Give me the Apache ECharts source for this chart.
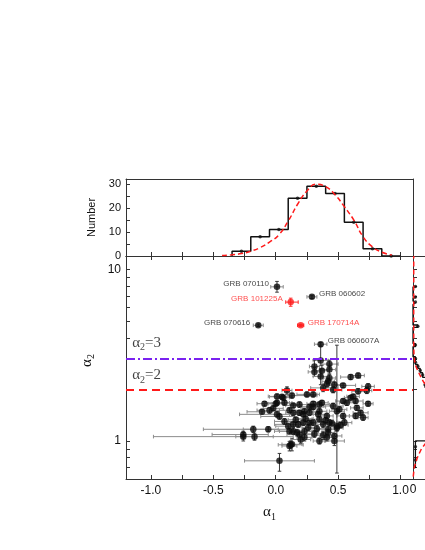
<!DOCTYPE html>
<html>
<head>
<meta charset="utf-8">
<script src="https://cdn.jsdelivr.net/npm/echarts@6/dist/echarts.min.js"></script>
<style>
html,body{margin:0;padding:0;background:#fff;overflow:hidden;}
#main{width:510px;height:550px;}
</style>
</head>
<body>
<div id="main"></div>
<script>
var SANS = '"Liberation Sans", Arial, Helvetica, sans-serif';
var SERIF = '"Liberation Serif", "Times New Roman", serif';

// scatter: alpha1 vs alpha2 (black points, first 4 are labelled bursts)
var alpha1 = [0.01,0.29,-0.14,0.36,
  0.36,0.43,0.31,0.37,0.31,0.43,0.36,0.43,0.42,0.41,
  0.47,0.60,0.66,0.74,0.73,0.54,0.38,0.46,0.66,0.09,
  0.01,0.05,0.06,0.13,0.25,0.30,-0.09,0.01,0.07,0.19,
  0.30,0.35,-0.11,-0.05,0.01,0.11,0.14,0.19,0.23,0.27,
  0.35,0.03,0.10,0.18,0.22,0.27,-0.18,-0.06,-0.26,-0.26,
  -0.17,0.11,0.19,0.23,0.11,0.13,0.03,0.35,0.47,0.47,
  0.41,0.42,0.49,0.43,0.35,0.41,0.46,0.49,0.57,0.60,
  0.62,0.65,0.68,0.70,0.64,0.74,0.55,0.54,0.51,0.27,
  0.37,0.54,0.64,0.22,0.34,0.14,0.30,0.38,0.45,0.52,
  0.14,0.23,0.42,0.49,0.20,0.31,0.38,0.26,0.33,0.40,
  0.24,0.16,0.07,-0.02,0.00,0.14,0.17,0.12,0.30];
var alpha2 = [7.93,6.93,4.73,3.67,
  2.95,2.81,2.72,2.57,2.53,2.61,2.38,2.33,2.23,2.15,
  2.13,2.36,2.41,2.08,1.97,2.11,2.04,1.99,1.95,1.97,
  1.82,1.81,1.79,1.84,1.87,1.87,1.65,1.67,1.67,1.63,
  1.65,1.63,1.48,1.51,1.43,1.51,1.46,1.46,1.49,1.46,
  1.49,1.39,1.22,1.25,1.28,1.28,1.17,1.17,1.09,1.06,
  1.06,1.14,1.09,1.05,0.935,0.956,0.766,1.00,1.07,1.00,
  1.05,1.17,1.19,1.28,1.34,1.40,1.60,1.49,1.67,1.79,
  1.82,1.56,1.46,1.37,1.40,1.65,1.28,1.40,1.53,1.58,
  1.67,1.71,1.71,1.43,1.43,1.25,1.28,1.25,1.27,1.24,
  1.14,1.14,1.12,1.22,1.02,1.10,1.08,1.20,1.18,1.32,
  1.35,1.33,1.30,1.55,1.65,1.61,1.12,0.95,1.58];
var alpha1ErrLo = [.05,.04,.04,.05,
  .06,.07,.04,.05,.05,.05,.06,.05,.05,.04,
  .05,.08,.05,.05,.04,.12,.10,.07,.05,.04,
  .07,.10,.05,.04,.08,.05,.06,.10,.06,.08,
  .05,.08,.12,.10,.30,.08,.06,.05,.07,.05,
  .06,.15,.10,.08,.10,.06,.40,.20,.25,.72,
  .15,.08,.10,.06,.06,.08,.28,.05,.06,.08,
  .06,.08,.05,.07,.06,.05,.08,.06,.06,.05,
  .05,.05,.06,.04,.05,.04,.06,.05,.06,.06,
  .05,.06,.06,.08,.07,.15,.06,.06,.06,.06,
  .15,.06,.05,.05,.08,.06,.08,.05,.06,.06,
  .06,.06,.08,.08,.06,.06,.05,.10,.10];
var alpha1ErrHi = [.05,.04,.04,.05,
  .06,.07,.04,.05,.05,.05,.06,.05,.05,.04,
  .05,.08,.05,.05,.04,.10,.12,.07,.05,.04,
  .05,.08,.05,.20,.08,.05,.06,.10,.06,.08,
  .05,.08,.08,.08,.10,.10,.06,.05,.07,.05,
  .06,.12,.10,.08,.10,.06,.20,.20,.20,.40,
  .15,.08,.10,.06,.06,.08,.28,.05,.06,.08,
  .06,.08,.05,.07,.06,.05,.08,.06,.06,.05,
  .05,.05,.06,.04,.05,.04,.06,.05,.06,.06,
  .05,.06,.06,.08,.07,.15,.06,.06,.06,.06,
  .20,.06,.05,.05,.08,.06,.08,.05,.06,.06,
  .06,.06,.08,.08,.06,.06,.05,.10,.10];
var alpha2ErrLo = [.55,.15,.08,.08,
  .20,.15,.15,.20,.15,.15,.25,.12,.10,.10,
  .08,.08,.08,.08,.08,.06,.10,.08,.07,.10,
  .06,.05,.05,.06,.06,.06,.05,.05,.05,.06,
  .05,.06,.05,.06,.05,.05,.05,.05,.05,.05,
  .05,.05,.05,.05,.05,.04,.05,.04,.05,.06,
  .05,.05,.05,.05,.06,.08,.10,.04,.04,.06,
  .05,.05,.05,.05,.05,.05,.06,.05,.06,.05,
  .05,.05,.05,.05,.05,.05,.05,.05,.05,.05,
  .05,.05,.05,.05,.05,.05,.05,.05,.05,.05,
  .05,.05,.05,.57,.05,.05,.06,.05,.05,.05,
  .05,.05,.05,.05,.05,.05,.05,.05,.05];
var alpha2ErrHi = [.60,.15,.08,.08,
  .60,.15,.25,.20,.15,.15,.25,.12,.10,.10,
  .08,.08,.08,.08,.08,.06,.10,.08,.07,.10,
  .06,.05,.05,.06,.06,.06,.05,.05,.05,.06,
  .05,.06,.05,.06,.05,.05,.05,.05,.05,.05,
  .05,.05,.05,.05,.05,.04,.05,.04,.05,.06,
  .05,.05,.05,.05,.06,.08,.08,.04,.04,.06,
  .05,.05,.05,.05,.05,.05,.06,.05,.06,.05,
  .05,.05,.05,.05,.05,.05,.05,.05,.05,.05,
  .05,.05,.05,.05,.05,.05,.05,.05,.05,.05,
  .05,.05,.05,2.40,.05,.05,.06,.05,.05,.05,
  .05,.05,.05,.05,.05,.05,.05,.05,.05];

// red points
var redAlpha1 = [0.12, 0.20];
var redAlpha2 = [6.46, 4.73];
var redAlpha1ErrLo = [0.04, 0.025];
var redAlpha1ErrHi = [0.06, 0.025];
var redAlpha2ErrLo = [0.35, 0.06];
var redAlpha2ErrHi = [0.35, 0.06];

// labelled bursts
var grbNames  = ['GRB 070110','GRB 060602','GRB 101225A','GRB 170714A','GRB 070616','GRB 060607A'];
var grbAlpha1 = [0.01, 0.29, 0.12, 0.20, -0.14, 0.36];
var grbAlpha2 = [7.93, 6.93, 6.46, 4.73, 4.73, 3.67];
var grbSide   = ['left','right','left','right','left','right'];
var grbRed    = [false, false, true, true, false, false];

// top histogram of alpha1
var topEdges  = [-0.35,-0.2,-0.05,0.1,0.25,0.4,0.55,0.7,0.85,1.0];
var topCounts = [2,8,11,24,29,26,14,3,0];
var topFitX = [-0.43,-0.35,-0.275,-0.2,-0.125,-0.05,0.025,0.1,0.175,0.25,0.325,0.4,0.475,0.55,0.625,0.7,0.775,0.85,0.93];
var topFitY = [0.2,0.5,1.0,2.0,3.5,5.8,8.8,14.5,21.5,27,29.8,28.8,25.5,20.5,15,8,3.8,1.6,0.4];

// right histogram of alpha2 (bins of 0.15 starting at 0.70)
var alpha2BinStart = 0.70, alpha2BinWidth = 0.15;
var rightCounts = [1,1,17,18,14,16,14,9,6,5,
  6,4,3,2,1,1,0,0,0,1,
  0,0,0,0,0,0,2,0,0,0,
  0,0,0,0,0,0,0,0,1,0,
  0,1,0,0,0,0,0,0,1];
var rightFitAlpha2 = [0.62,0.7,0.8,0.9,1.0,1.1,1.2,1.3,1.4,1.5,1.6,1.7,1.8,1.9,2.0,2.1,2.2,2.3,2.5,2.7,2.9,3.2,3.6,4.2,5,7,12];
var rightFitCount  = [0.1,0.5,1.8,3.5,6,12,20,26,29,28,24,19,14,10,7,5.5,4.5,3.7,2.4,1.3,0.7,0.4,0.3,0.3,0.3,0.3,0.3];

// axis ticks / labels
var alpha1Ticks  = [-1,-0.75,-0.5,-0.25,0,0.25,0.5,0.75,1];
var alpha1Labels = [-1,-0.5,0,0.5,1];
var alpha2Ticks  = [0.7,0.8,0.9,1,2,3,4,5,6,7,8,9,10];
var alpha2Labels = [1,10];
var numberTicks  = [0,5,10,15,20,25,30];
var numberLabels = [0,10,20,30];

var AX = '#333';

function rows(a1, a2, xl, xh, yl, yh){
  var out = [];
  for (var i = 0; i < a1.length; i++) out.push([a1[i], a2[i], xl[i], xh[i], yl[i], yh[i]]);
  return out;
}

function errRenderer(hColor, vColor){
  return function(params, api){
    var x = api.value(0), y = api.value(1);
    var l = api.coord([x - api.value(2), y]);
    var r = api.coord([x + api.value(3), y]);
    var b = api.coord([x, y - api.value(4)]);
    var t = api.coord([x, y + api.value(5)]);
    var cap = 1.8;
    var hs = {stroke: hColor, lineWidth: 1};
    var vs = {stroke: vColor, lineWidth: 1};
    return {type:'group', children:[
      {type:'line', shape:{x1:l[0],y1:l[1],x2:r[0],y2:r[1]}, style:hs},
      {type:'line', shape:{x1:l[0],y1:l[1]-cap,x2:l[0],y2:l[1]+cap}, style:hs},
      {type:'line', shape:{x1:r[0],y1:r[1]-cap,x2:r[0],y2:r[1]+cap}, style:hs},
      {type:'line', shape:{x1:b[0],y1:b[1],x2:t[0],y2:t[1]}, style:vs},
      {type:'line', shape:{x1:b[0]-cap,y1:b[1],x2:b[0]+cap,y2:b[1]}, style:vs},
      {type:'line', shape:{x1:t[0]-cap,y1:t[1],x2:t[0]+cap,y2:t[1]}, style:vs}
    ]};
  };
}

function pairs(a, b){
  var out = [];
  for (var i = 0; i < a.length; i++) out.push([a[i], b[i]]);
  return out;
}

// step outline; vertical=true puts counts on x
function stepLine(edges, counts, vertical){
  var pts = [[edges[0], 0]];
  for (var i = 0; i < counts.length; i++){
    pts.push([edges[i], counts[i]]);
    pts.push([edges[i+1], counts[i]]);
  }
  pts.push([edges[edges.length-1], 0]);
  if (vertical) pts = pts.map(function(p){ return [p[1], p[0]]; });
  return pts;
}

var rightEdges = [];
for (var k = 0; k <= rightCounts.length; k++) rightEdges.push(+(alpha2BinStart + alpha2BinWidth*k).toFixed(2));

var topDots = [];
for (var i = 0; i < topCounts.length; i++) topDots.push([(topEdges[i]+topEdges[i+1])/2, topCounts[i]]);
var rightDots = [];
for (var j = 0; j < rightCounts.length; j++) if (rightCounts[j] > 0) rightDots.push([rightCounts[j], (rightEdges[j]+rightEdges[j+1])/2]);

var labelData = [];
for (var g = 0; g < grbNames.length; g++){
  labelData.push({
    value: [grbAlpha1[g], grbAlpha2[g]],
    label: {
      show: true, formatter: grbNames[g], position: grbSide[g],
      distance: grbSide[g] === 'left' ? 8 : 7, offset: [0, -3],
      color: grbRed[g] ? '#ff1f1f' : '#111', fontSize: 8, fontFamily: SANS
    }
  });
}

var alphaRich = {
  a: {fontSize: 15, fontFamily: SERIF, color: '#111', lineHeight: 20, verticalAlign: 'middle'},
  s: {fontSize: 10, fontFamily: SERIF, color: '#111', lineHeight: 20, verticalAlign: 'bottom'}
};

function frame(axis){
  axis.axisLine = {show: true, onZero: false, lineStyle: {color: AX, width: 1}};
  axis.splitLine = {show: false};
  if (!axis.axisTick) axis.axisTick = {show: false};
  if (!axis.axisLabel) axis.axisLabel = {show: false};
  return axis;
}

var myChart = echarts.init(document.getElementById('main'));

var option = {
  animation: false,
  backgroundColor: '#fff',
  grid: [
    {left: 126, top: 256, width: 287, height: 223},
    {left: 126, top: 179, width: 287, height: 77},
    {left: 413, top: 256, width: 77, height: 223}
  ],
  xAxis: [
    frame({gridIndex: 0, type: 'value', min: -1.2, max: 1.1, position: 'bottom',
      axisTick: {show: true, inside: true, length: 4, customValues: alpha1Ticks, lineStyle: {color: AX}},
      axisLabel: {show: true, customValues: alpha1Labels, fontSize: 12, color: '#111', margin: 6, fontFamily: SANS,
        formatter: function(v){ return v.toFixed(1); }},
      name: '{a|α}{s|1}', nameLocation: 'middle', nameGap: 23,
      nameTextStyle: {rich: alphaRich}}),
    frame({gridIndex: 0, type: 'value', min: -1.2, max: 1.1, position: 'top',
      axisTick: {show: true, inside: true, length: 4, customValues: alpha1Ticks, lineStyle: {color: AX}}}),
    frame({gridIndex: 1, type: 'value', min: -1.2, max: 1.1, position: 'bottom',
      axisTick: {show: true, inside: true, length: 4, customValues: alpha1Ticks, lineStyle: {color: AX}}}),
    frame({gridIndex: 1, type: 'value', min: -1.2, max: 1.1, position: 'top'}),
    frame({gridIndex: 2, type: 'value', min: 0, max: 32, position: 'bottom',
      axisTick: {show: true, inside: true, length: 4, customValues: numberTicks, lineStyle: {color: AX}},
      axisLabel: {show: true, customValues: numberLabels, fontSize: 12, color: '#111', margin: 5, fontFamily: SANS}}),
    frame({gridIndex: 2, type: 'value', min: 0, max: 32, position: 'top'})
  ],
  yAxis: [
    frame({gridIndex: 0, type: 'log', logBase: 10, min: 0.6, max: 12, position: 'left',
      axisTick: {show: true, inside: true, length: 4, customValues: alpha2Ticks, lineStyle: {color: AX}},
      axisLabel: {show: true, customValues: alpha2Labels, fontSize: 12, color: '#111', margin: 5, fontFamily: SANS},
      name: '{a|α}{s|2}', nameLocation: 'middle', nameGap: 19, nameRotate: 90,
      nameTextStyle: {rich: alphaRich, padding: [0, 0, 0, 14]}}),
    frame({gridIndex: 1, type: 'value', min: 0, max: 32, position: 'left',
      axisTick: {show: true, inside: true, length: 4, customValues: numberTicks, lineStyle: {color: AX}},
      axisLabel: {show: true, customValues: numberLabels, fontSize: 11, color: '#111', margin: 5, fontFamily: SANS},
      name: 'Number', nameLocation: 'middle', nameGap: 24, nameRotate: 90,
      nameTextStyle: {fontSize: 11, color: '#111', fontFamily: SANS}}),
    frame({gridIndex: 1, type: 'value', min: 0, max: 32, position: 'right'}),
    frame({gridIndex: 2, type: 'log', logBase: 10, min: 0.6, max: 12, position: 'left',
      axisTick: {show: true, inside: true, length: 4, customValues: alpha2Ticks, lineStyle: {color: AX}}})
  ],
  series: [
    {type: 'custom', xAxisIndex: 0, yAxisIndex: 0, silent: true, z: 2,
      data: rows(alpha1, alpha2, alpha1ErrLo, alpha1ErrHi, alpha2ErrLo, alpha2ErrHi),
      encode: {x: 0, y: 1}, renderItem: errRenderer('#8c8c8c', '#3a3a3a')},
    {type: 'custom', xAxisIndex: 0, yAxisIndex: 0, silent: true, z: 2,
      data: rows(redAlpha1, redAlpha2, redAlpha1ErrLo, redAlpha1ErrHi, redAlpha2ErrLo, redAlpha2ErrHi),
      encode: {x: 0, y: 1}, renderItem: errRenderer('#ff2a2a', '#ff2a2a')},
    {type: 'scatter', xAxisIndex: 0, yAxisIndex: 0, z: 3, symbolSize: 6.5,
      itemStyle: {color: '#0b0b0b'}, data: pairs(alpha1, alpha2),
      markLine: {silent: true, symbol: 'none', label: {show: false},
        data: [
          {yAxis: 3, lineStyle: {color: '#7a22f0', width: 2, type: [9, 3, 2, 3]}},
          {yAxis: 2, lineStyle: {color: '#ff1a1a', width: 1.8, type: [8, 5]}}
        ]}},
    {type: 'scatter', xAxisIndex: 0, yAxisIndex: 0, z: 3, symbolSize: 6.5,
      itemStyle: {color: '#ff1a1a'}, data: pairs(redAlpha1, redAlpha2)},
    {type: 'scatter', xAxisIndex: 0, yAxisIndex: 0, z: 4, symbolSize: 0, silent: true, data: labelData},
    {type: 'scatter', xAxisIndex: 0, yAxisIndex: 0, z: 4, symbolSize: 0, silent: true,
      label: {show: true, position: 'right', distance: 0, rich: alphaRich},
      data: [
        {value: [-1.15, 3.75], label: {formatter: '{a|α}{s|2}{a|=3}'}},
        {value: [-1.15, 2.43], label: {formatter: '{a|α}{s|2}{a|=2}'}}
      ]},
    {type: 'line', xAxisIndex: 2, yAxisIndex: 1, z: 3, symbol: 'none',
      lineStyle: {color: '#111', width: 1.5}, data: stepLine(topEdges, topCounts, false)},
    {type: 'scatter', xAxisIndex: 2, yAxisIndex: 1, z: 4, symbolSize: 3.5,
      itemStyle: {color: '#111'}, data: topDots},
    {type: 'line', xAxisIndex: 2, yAxisIndex: 1, z: 5, symbol: 'none', smooth: true,
      lineStyle: {color: '#ff1a1a', width: 1.5, type: [5, 3]}, data: pairs(topFitX, topFitY)},
    {type: 'line', xAxisIndex: 4, yAxisIndex: 3, z: 3, symbol: 'none',
      lineStyle: {color: '#111', width: 1.3}, data: stepLine(rightEdges, rightCounts, true)},
    {type: 'scatter', xAxisIndex: 4, yAxisIndex: 3, z: 4, symbolSize: 3.5,
      itemStyle: {color: '#111'}, data: rightDots},
    {type: 'line', xAxisIndex: 4, yAxisIndex: 3, z: 5, symbol: 'none',
      lineStyle: {color: '#ff1a1a', width: 1.5, type: [5, 3]}, data: pairs(rightFitCount, rightFitAlpha2)}
  ]
};

myChart.setOption(option);
</script>
</body>
</html>
